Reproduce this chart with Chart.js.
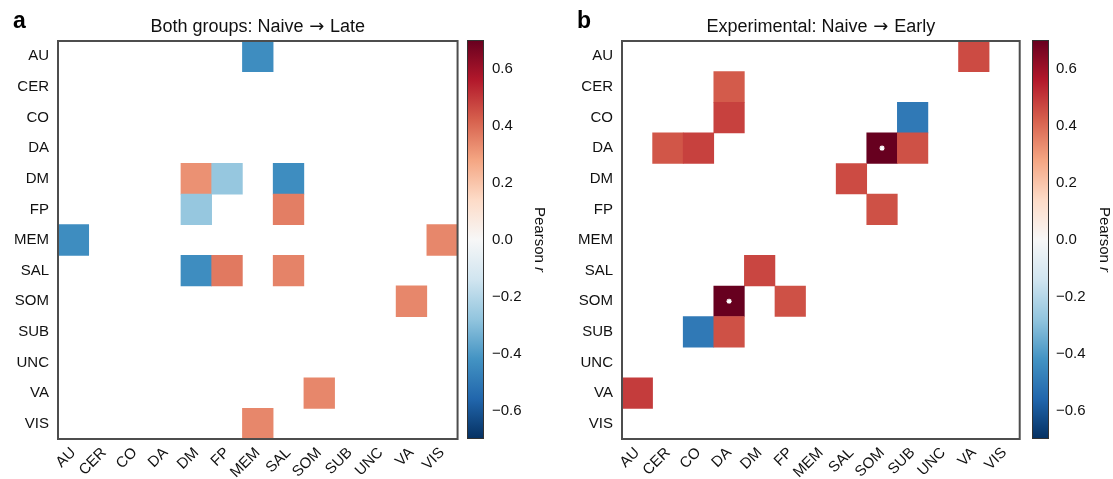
<!DOCTYPE html>
<html>
<head>
<meta charset="utf-8">
<script src="https://cdn.jsdelivr.net/npm/chart.js@4.4.1/dist/chart.umd.min.js"></script>
<style>
  html, body { margin: 0; padding: 0; background: #fff; }
  #wrap { position: relative; width: 1113px; height: 479px; overflow: hidden; }
  canvas { position: absolute; top: 0; }
</style>
</head>
<body>
<div id="wrap">
  <canvas id="heat-a" width="460" height="479" style="left:0px"></canvas>
  <canvas id="bar-a" width="100" height="479" style="left:460px"></canvas>
  <canvas id="heat-b" width="465" height="479" style="left:560px"></canvas>
  <canvas id="bar-b" width="88" height="479" style="left:1025px"></canvas>
</div>
<script>
// Brain networks on both axes
const regions = ['AU', 'CER', 'CO', 'DA', 'DM', 'FP', 'MEM', 'SAL', 'SOM', 'SUB', 'UNC', 'VA', 'VIS'];

// Panel a: Both groups, Naive -> Late (non-empty cells only)
const lateRows = ['AU', 'DM', 'DM', 'DM', 'FP', 'FP', 'MEM', 'MEM', 'SAL', 'SAL', 'SAL', 'SOM', 'VA', 'VIS'];
const lateCols = ['MEM', 'DM', 'FP', 'SAL', 'DM', 'SAL', 'AU', 'VIS', 'DM', 'FP', 'SAL', 'VA', 'SOM', 'MEM'];
const lateR = [-0.44, 0.32, -0.27, -0.44, -0.27, 0.36, -0.44, 0.34, -0.44, 0.37, 0.35, 0.34, 0.34, 0.34];

// Panel b: Experimental, Naive -> Early
const earlyRows = ['AU', 'CER', 'CO', 'CO', 'DA', 'DA', 'DA', 'DA', 'DM', 'FP', 'SAL', 'SOM', 'SOM', 'SUB', 'SUB', 'VA'];
const earlyCols = ['VA', 'DA', 'DA', 'SUB', 'CER', 'CO', 'SOM', 'SUB', 'SAL', 'SOM', 'DM', 'DA', 'FP', 'CO', 'DA', 'AU'];
const earlyR = [0.46, 0.43, 0.48, -0.50, 0.44, 0.48, 0.70, 0.45, 0.46, 0.45, 0.47, 0.70, 0.45, -0.50, 0.45, 0.49];
const earlyStarRows = ['DA', 'SOM'];
const earlyStarCols = ['SOM', 'DA'];

// Colour bar
const rMin = -0.7;
const rMax = 0.7;
const barTicks = [-0.6, -0.4, -0.2, 0, 0.2, 0.4, 0.6];

// RdBu_r stops (blue -> red)
const rdbuStops = ['#053061', '#2166ac', '#4393c3', '#92c5de', '#d1e5f0', '#f7f7f7',
                   '#fddbc7', '#f4a582', '#d6604d', '#b2182b', '#67001f'];

const FONT = "'Liberation Sans', Arial, sans-serif";
Chart.defaults.font.family = FONT;
Chart.defaults.color = '#111';

function hexToRgb(h) {
    return [parseInt(h.slice(1, 3), 16), parseInt(h.slice(3, 5), 16), parseInt(h.slice(5, 7), 16)];
}

function rdbu(v) {
    let t = (v - rMin) / (rMax - rMin);
    t = Math.max(0, Math.min(1, t)) * (rdbuStops.length - 1);
    const i = Math.min(Math.floor(t), rdbuStops.length - 2);
    const f = t - i;
    const a = hexToRgb(rdbuStops[i]);
    const b = hexToRgb(rdbuStops[i + 1]);
    const c = a.map((x, k) => Math.round(x + (b[k] - x) * f));
    return `rgb(${c[0]},${c[1]},${c[2]})`;
}

// Frame, panel letter and title (arrow set in DejaVu, it is wider)
const panelDecor = {
    id: 'panelDecor',
    afterDraw(chart, args, opts) {
        const { ctx, chartArea } = chart;
        ctx.save();
        ctx.strokeStyle = '#4d4d4d';
        ctx.lineWidth = 2;
        ctx.strokeRect(chartArea.left, chartArea.top, chartArea.right - chartArea.left, chartArea.bottom - chartArea.top);
        ctx.fillStyle = '#000';
        ctx.textBaseline = 'alphabetic';
        ctx.font = 'bold 23px ' + FONT;
        ctx.textAlign = 'left';
        ctx.fillText(opts.letter, chartArea.left - 45, 28);

        const parts = [
            [opts.title[0], '18px ' + FONT],
            [' \u2192 ', "18px 'DejaVu Sans', sans-serif"],
            [opts.title[1], '18px ' + FONT],
        ];
        let total = 0;
        const widths = parts.map(p => { ctx.font = p[1]; const w = ctx.measureText(p[0]).width; total += w; return w; });
        let x = (chartArea.left + chartArea.right) / 2 - total / 2;
        ctx.fillStyle = '#111';
        parts.forEach((p, i) => {
            ctx.font = p[1];
            ctx.fillText(p[0], x, 32);
            x += widths[i];
        });
        ctx.restore();
    }
};

// Gradient bar and its label
const colorBar = {
    id: 'colorBar',
    beforeDatasetsDraw(chart) {
        const { ctx, chartArea } = chart;
        const y = chart.scales.y;
        const top = y.getPixelForValue(rMax);
        const bottom = y.getPixelForValue(rMin);
        const grad = ctx.createLinearGradient(0, bottom, 0, top);
        rdbuStops.forEach((c, i) => grad.addColorStop(i / (rdbuStops.length - 1), c));
        ctx.save();
        ctx.fillStyle = grad;
        ctx.fillRect(chartArea.left, top, chartArea.right - chartArea.left, bottom - top);
        ctx.strokeStyle = '#333';
        ctx.lineWidth = 1;
        ctx.strokeRect(chartArea.left + 0.5, top + 0.5, chartArea.right - chartArea.left - 1, bottom - top - 1);

        // "Pearson r" reading downwards
        const word = 'Pearson ';
        ctx.translate(chartArea.right + 55, (top + bottom) / 2);
        ctx.rotate(Math.PI / 2);
        ctx.fillStyle = '#111';
        ctx.textBaseline = 'middle';
        ctx.textAlign = 'left';
        ctx.font = '15px ' + FONT;
        const w1 = ctx.measureText(word).width;
        ctx.font = 'italic 15px ' + FONT;
        const w2 = ctx.measureText('r').width;
        const x0 = -(w1 + w2) / 2;
        ctx.font = '15px ' + FONT;
        ctx.fillText(word, x0, 0);
        ctx.font = 'italic 15px ' + FONT;
        ctx.fillText('r', x0 + w1, 0);
        ctx.restore();
    }
};

function cellRadius(ctx) {
    const x = ctx.chart.scales.x;
    if (!x) return 10;
    return (Math.abs(x.getPixelForValue(1) - x.getPixelForValue(0)) + 0.6) / Math.SQRT2;
}

function buildHeatmap(canvasId, rows, cols, rs, starRows, starCols, letter, title, axisWidth) {
    const cells = rows.map((r, i) => ({ x: cols[i], y: r, v: rs[i] }));
    const stars = starRows.map((r, i) => ({ x: starCols[i], y: r }));
    return new Chart(document.getElementById(canvasId), {
        type: 'scatter',
        data: {
            datasets: [{
                data: cells,
                order: 1,
                pointStyle: 'rect',
                pointRadius: cellRadius,
                pointBackgroundColor: ctx => rdbu(ctx.raw ? ctx.raw.v : 0),
                pointBorderWidth: 0,
                pointBorderColor: 'rgba(0,0,0,0)',
            }, {
                data: stars,
                order: 0,
                pointStyle: 'star',
                pointRadius: 2.6,
                pointBorderColor: '#fff',
                pointBorderWidth: 1.3,
                pointBackgroundColor: '#fff',
            }]
        },
        options: {
            responsive: false,
            animation: false,
            events: [],
            layout: { padding: { top: 41, right: 2, left: 0, bottom: 0 } },
            plugins: {
                legend: { display: false },
                tooltip: { enabled: false },
                panelDecor: { letter: letter, title: title },
            },
            scales: {
                x: {
                    type: 'category',
                    labels: regions,
                    offset: true,
                    grid: { display: false, drawTicks: false },
                    border: { display: false },
                    ticks: { autoSkip: false, maxRotation: 45, minRotation: 45, padding: 5, font: { size: 15 } },
                    afterFit: s => { s.height = 40; },
                },
                y: {
                    type: 'category',
                    labels: regions,
                    offset: true,
                    grid: { display: false, drawTicks: false },
                    border: { display: false },
                    ticks: { autoSkip: false, padding: 9, font: { size: 15 } },
                    afterFit: s => { s.width = axisWidth; },
                }
            }
        },
        plugins: [panelDecor]
    });
}

function buildColorBar(canvasId, padLeft, axisWidth, tickPad) {
    return new Chart(document.getElementById(canvasId), {
        type: 'scatter',
        data: { datasets: [{ data: [] }] },
        options: {
            responsive: false,
            animation: false,
            events: [],
            layout: { padding: { top: 40, bottom: 40, left: padLeft, right: 0 } },
            plugins: { legend: { display: false }, tooltip: { enabled: false } },
            scales: {
                x: { display: false, min: 0, max: 1 },
                y: {
                    position: 'right',
                    min: rMin,
                    max: rMax,
                    grid: { display: false, drawTicks: false },
                    border: { display: false },
                    afterBuildTicks: s => { s.ticks = barTicks.map(v => ({ value: v })); },
                    ticks: {
                        padding: tickPad,
                        font: { size: 15 },
                        callback: v => (v < -1e-9 ? '\u2212' : '') + Math.abs(v).toFixed(1),
                    },
                    afterFit: s => { s.width = axisWidth; },
                }
            }
        },
        plugins: [colorBar]
    });
}

buildHeatmap('heat-a', lateRows, lateCols, lateR, [], [], 'a', ['Both groups: Naive', 'Late'], 58);
buildColorBar('bar-a', 7, 76, 8);
buildHeatmap('heat-b', earlyRows, earlyCols, earlyR, earlyStarRows, earlyStarCols, 'b', ['Experimental: Naive', 'Early'], 62);
buildColorBar('bar-b', 7, 64, 7);
</script>
</body>
</html>
